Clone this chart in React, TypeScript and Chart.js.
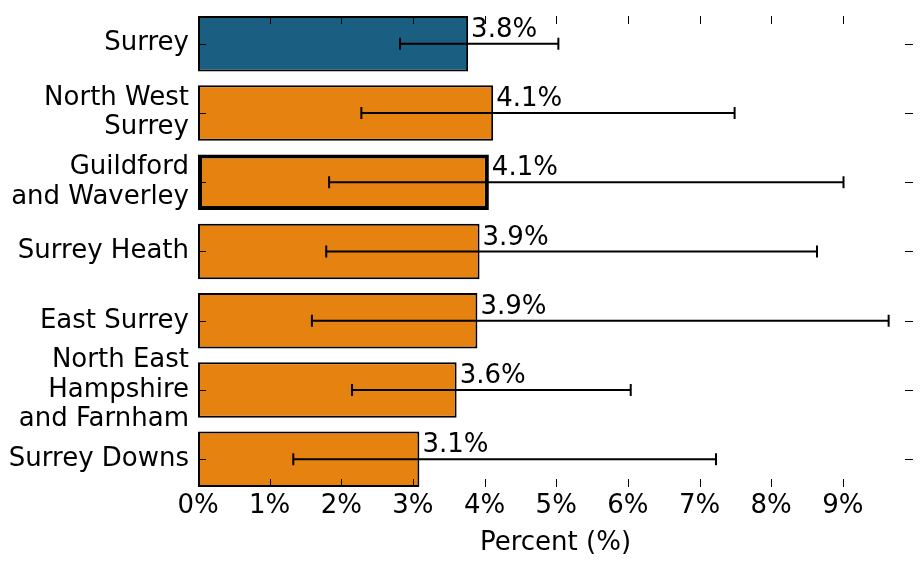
import { useEffect, useRef } from 'react';
import { Chart, registerables, Plugin } from 'chart.js';

Chart.register(...registerables);

const regions: (string | string[])[] = [
  'Surrey',
  ['North West', 'Surrey'],
  ['Guildford', 'and Waverley'],
  'Surrey Heath',
  'East Surrey',
  ['North East', 'Hampshire', 'and Farnham'],
  'Surrey Downs',
];
const percents = [3.77, 4.12, 4.06, 3.93, 3.9, 3.61, 3.09];
const lowerCI = [2.82, 2.28, 1.83, 1.79, 1.59, 2.15, 1.33];
const upperCI = [5.03, 7.49, 9.01, 8.64, 9.64, 6.04, 7.23];
const xTicks = [0, 1, 2, 3, 4, 5, 6, 7, 8, 9];

const BLUE = '#1a5e82';
const ORANGE = '#e68210';

// error bars, value labels and inward tick marks on all four sides
const overlayPlugin: Plugin<'bar'> = {
  id: 'overlay',
  afterDatasetsDraw(chart) {
    const { ctx, chartArea } = chart;
    const xs = chart.scales.x;
    const ys = chart.scales.y;
    ctx.save();
    ctx.strokeStyle = '#000';

    // error bars
    ctx.lineWidth = 2;
    regions.forEach((_, i) => {
      const y = ys.getPixelForValue(i);
      const x0 = xs.getPixelForValue(lowerCI[i]);
      const x1 = xs.getPixelForValue(upperCI[i]);
      ctx.beginPath();
      ctx.moveTo(x0, y);
      ctx.lineTo(x1, y);
      ctx.moveTo(x0, y - 6);
      ctx.lineTo(x0, y + 6);
      ctx.moveTo(x1, y - 6);
      ctx.lineTo(x1, y + 6);
      ctx.stroke();
    });

    // value labels
    ctx.fillStyle = '#000';
    ctx.font = '26px "DejaVu Sans"';
    ctx.textAlign = 'left';
    ctx.textBaseline = 'alphabetic';
    percents.forEach((v, i) => {
      const y = ys.getPixelForValue(i);
      ctx.fillText(v.toFixed(1) + '%', xs.getPixelForValue(v) + 3, y - 7);
    });

    // tick marks
    ctx.lineWidth = 1;
    ctx.beginPath();
    xTicks.forEach((t) => {
      const x = Math.round(xs.getPixelForValue(t)) + 0.5;
      ctx.moveTo(x, chartArea.top);
      ctx.lineTo(x, chartArea.top + 8);
      ctx.moveTo(x, chartArea.bottom);
      ctx.lineTo(x, chartArea.bottom - 8);
    });
    regions.forEach((_, i) => {
      const y = Math.round(ys.getPixelForValue(i)) + 0.5;
      ctx.moveTo(chartArea.left, y);
      ctx.lineTo(chartArea.left + 8, y);
      ctx.moveTo(chartArea.right, y);
      ctx.lineTo(chartArea.right - 8, y);
    });
    ctx.stroke();
    ctx.restore();
  },
};

export default function App() {
  const chartRef = useRef<HTMLCanvasElement>(null);
  const chartInstance = useRef<Chart | null>(null);

  useEffect(() => {
    document.body.style.margin = '0';
    if (!chartRef.current) return;
    if (chartInstance.current) chartInstance.current.destroy();

    Chart.defaults.font.family = '"DejaVu Sans", sans-serif';
    Chart.defaults.color = '#000';

    chartInstance.current = new Chart(chartRef.current, {
      type: 'bar',
      data: {
        datasets: [
          {
            data: percents.map((v, i) => ({ x: v, y: i })),
            backgroundColor: percents.map((_, i) => (i === 0 ? BLUE : ORANGE)),
            borderColor: '#000',
            borderWidth: percents.map((_, i) => (i === 2 ? 4 : 2)),
            borderSkipped: false,
            categoryPercentage: 1,
            barPercentage: 0.8,
          },
        ],
      },
      options: {
        indexAxis: 'y',
        animation: false,
        responsive: true,
        maintainAspectRatio: false,
        layout: { padding: { top: 16, right: 8, left: 0, bottom: 0 } },
        plugins: {
          legend: { display: false },
          tooltip: { enabled: false },
        },
        scales: {
          x: {
            type: 'linear',
            min: 0,
            max: 9.98,
            grid: { display: false, drawTicks: false },
            border: { display: false },
            afterBuildTicks: (scale) => {
              scale.ticks = xTicks.map((v) => ({ value: v }));
            },
            afterFit: (scale) => {
              scale.height = 86;
              scale.paddingLeft = 0;
              scale.paddingRight = 0;
            },
            ticks: {
              autoSkip: false,
              maxRotation: 0,
              padding: 4,
              font: { size: 26 },
              callback: (v) => v + '%',
            },
            title: {
              display: true,
              text: 'Percent (%)',
              font: { size: 26 },
              padding: { top: 0, bottom: 14 },
            },
          },
          y: {
            type: 'linear',
            min: -0.4,
            max: 6.4,
            reverse: true,
            offset: false,
            grid: { display: false, drawTicks: false },
            border: { display: false },
            afterBuildTicks: (scale) => {
              scale.ticks = regions.map((_, i) => ({ value: i }));
            },
            afterFit: (scale) => {
              scale.width = 198;
              scale.paddingTop = 0;
              scale.paddingBottom = 0;
            },
            ticks: {
              autoSkip: false,
              padding: 9,
              font: { size: 26, lineHeight: 1.13 },
              callback: (v) => regions[Number(v)] ?? '',
            },
          },
        },
      },
      plugins: [overlayPlugin],
    });

    return () => {
      if (chartInstance.current) {
        chartInstance.current.destroy();
        chartInstance.current = null;
      }
    };
  }, []);

  return (
    <div style={{ position: 'relative', width: 921, height: 573, background: '#fff' }}>
      <canvas ref={chartRef}></canvas>
    </div>
  );
}
